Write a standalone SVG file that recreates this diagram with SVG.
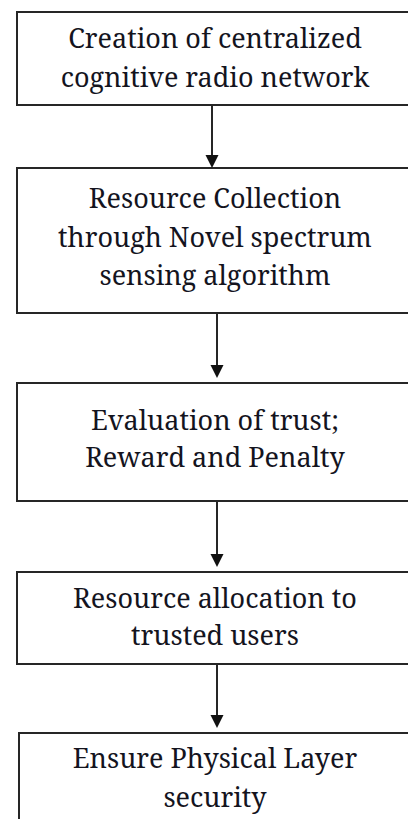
<svg xmlns="http://www.w3.org/2000/svg" width="408" height="819" viewBox="0 0 408 819">
  <style>
    .box { fill: #ffffff; stroke: #262626; stroke-width: 2; }
    .label { font-family: "Noto Serif", "Liberation Serif", "DejaVu Serif", serif; font-size: 27px; fill: #14141e; text-anchor: middle; }
    .edge { stroke: #262626; stroke-width: 2; fill: none; }
    .head { fill: #111111; }
  </style>
  <rect width="408" height="819" fill="#ffffff"/>

  <g id="node-creation">
    <rect class="box" x="17" y="12" width="400" height="93"/>
    <text class="label" x="215" y="48">Creation of centralized</text>
    <text class="label" x="215" y="87">cognitive radio network</text>
  </g>

  <g id="node-collection">
    <rect class="box" x="17" y="168" width="400" height="145"/>
    <text class="label" x="215" y="208">Resource Collection</text>
    <text class="label" x="215" y="247">through Novel spectrum</text>
    <text class="label" x="215" y="285">sensing algorithm</text>
  </g>

  <g id="node-trust">
    <rect class="box" x="17" y="383" width="400" height="118"/>
    <text class="label" x="215" y="430">Evaluation of trust;</text>
    <text class="label" x="215" y="467">Reward and Penalty</text>
  </g>

  <g id="node-allocation">
    <rect class="box" x="17" y="572" width="400" height="92"/>
    <text class="label" x="215" y="608">Resource allocation to</text>
    <text class="label" x="215" y="645">trusted users</text>
  </g>

  <g id="node-security">
    <rect class="box" x="19" y="733" width="400" height="100"/>
    <text class="label" x="215" y="768">Ensure Physical Layer</text>
    <text class="label" x="215" y="807">security</text>
  </g>

  <g id="connectors">
    <line class="edge" x1="212" y1="105" x2="212" y2="156"/>
    <path class="head" d="M205.5 155 L218.5 155 L212 168 Z"/>
    <line class="edge" x1="217" y1="313" x2="217" y2="366"/>
    <path class="head" d="M210.5 365 L223.5 365 L217 378 Z"/>
    <line class="edge" x1="217" y1="501" x2="217" y2="555"/>
    <path class="head" d="M210.5 554 L223.5 554 L217 567 Z"/>
    <line class="edge" x1="217" y1="664" x2="217" y2="716"/>
    <path class="head" d="M210.5 715 L223.5 715 L217 728 Z"/>
  </g>
</svg>
